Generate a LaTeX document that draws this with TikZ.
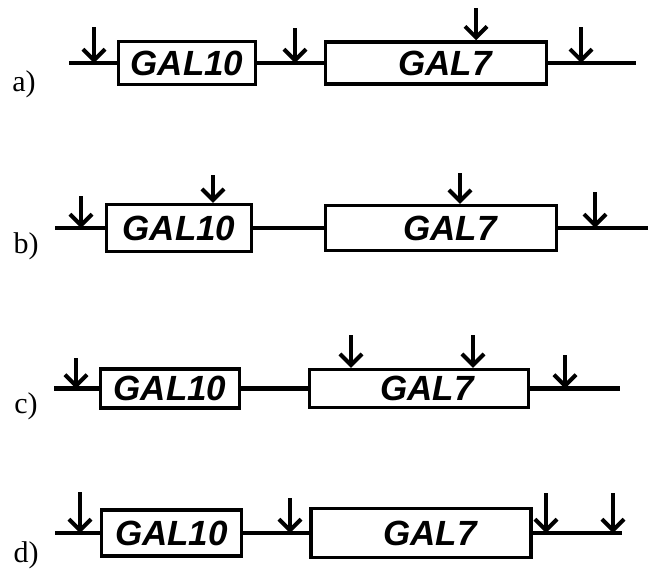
\documentclass[tikz,border=0pt]{standalone}
\usepackage{fontspec}
\setmainfont{Liberation Serif}
\newfontfamily\genefont{Liberation Sans}
\usetikzlibrary{arrows.meta}
\tikzset{
  gene/.style={draw, line width=3.5pt, inner sep=0pt, fill=white, font=\genefont\bfseries\itshape\fontsize{35}{35}\selectfont},
  dna/.style={line width=4.5pt},
  site/.style={line width=4pt, -{Straight Barb[length=11pt, width=22pt]}},
  rowlab/.style={font=\fontsize{30}{30}\selectfont}
}
\begin{document}
\begin{tikzpicture}[x=1pt, y=-1pt]
\useasboundingbox (0,0) rectangle (648,571);
\node[rowlab] (laba) at (24,84){a)};
\coordinate (a0) at (69,63);
\coordinate (a1) at (636,63);
\node[gene, minimum width=137, minimum height=43] (g10a) at (187,63){GAL10};
\node[gene, minimum width=221, minimum height=42] (g7a) at (436,63){\hspace*{18pt}GAL7};
\draw[dna](a0) -- (g10a);
\draw[dna](g10a) -- (g7a);
\draw[dna](g7a) -- (a1);
\coordinate (sa1) at (94,27);
\coordinate (sa2) at (295,28);
\coordinate (sa3) at (476,8);
\coordinate (sa4) at (581,27);
\draw[site](sa1) -- (sa1 |- a0);
\draw[site](sa2) -- (sa2 |- a0);
\draw[site](sa3) -- (sa3 |- g7a.north);
\draw[site](sa4) -- (sa4 |- a0);
\node[rowlab] (labb) at (26,246){b)};
\coordinate (b0) at (55,228);
\coordinate (b1) at (648,228);
\node[gene, minimum width=145, minimum height=47] (g10b) at (179,228){GAL10};
\node[gene, minimum width=231, minimum height=45] (g7b) at (441,228){\hspace*{18pt}GAL7};
\draw[dna](b0) -- (g10b);
\draw[dna](g10b) -- (g7b);
\draw[dna](g7b) -- (b1);
\coordinate (sb1) at (81,196);
\coordinate (sb2) at (213,175);
\coordinate (sb3) at (460,173);
\coordinate (sb4) at (595,192);
\draw[site](sb1) -- (sb1 |- b0);
\draw[site](sb2) -- (sb2 |- g10b.north);
\draw[site](sb3) -- (sb3 |- g7b.north);
\draw[site](sb4) -- (sb4 |- b0);
\node[rowlab] (labc) at (26,406){c)};
\coordinate (c0) at (54,388.5);
\coordinate (c1) at (620,388.5);
\node[gene, minimum width=139, minimum height=39] (g10c) at (170,388.5){GAL10};
\node[gene, minimum width=219, minimum height=38] (g7c) at (419,388.5){\hspace*{16pt}GAL7};
\draw[dna](c0) -- (g10c);
\draw[dna](g10c) -- (g7c);
\draw[dna](g7c) -- (c1);
\coordinate (sc1) at (76,358);
\coordinate (sc2) at (351,335);
\coordinate (sc3) at (473,335);
\coordinate (sc4) at (565,355);
\draw[site](sc1) -- (sc1 |- c0);
\draw[site](sc2) -- (sc2 |- g7c.north);
\draw[site](sc3) -- (sc3 |- g7c.north);
\draw[site](sc4) -- (sc4 |- c0);
\node[rowlab] (labd) at (26,555){d)};
\coordinate (d0) at (55,533);
\coordinate (d1) at (622,533);
\node[gene, minimum width=140, minimum height=46] (g10d) at (171.5,533){GAL10};
\node[gene, minimum width=220, minimum height=49] (g7d) at (421,533){\hspace*{18pt}GAL7};
\draw[dna](d0) -- (g10d);
\draw[dna](g10d) -- (g7d);
\draw[dna](g7d) -- (d1);
\coordinate (sd1) at (80,492);
\coordinate (sd2) at (290,498);
\coordinate (sd3) at (546,493);
\coordinate (sd4) at (613,493);
\draw[site](sd1) -- (sd1 |- d0);
\draw[site](sd2) -- (sd2 |- d0);
\draw[site](sd3) -- (sd3 |- d0);
\draw[site](sd4) -- (sd4 |- d0);
\end{tikzpicture}
\end{document}
